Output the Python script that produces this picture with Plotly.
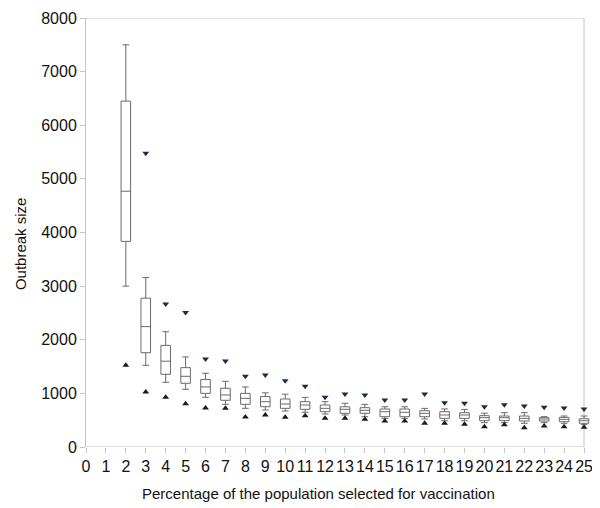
import plotly.graph_objects as go

# Percentage of population vaccinated (x positions of the boxes)
pct = list(range(2, 26))

upper_whisker = [7500, 3160, 2150, 1680, 1375, 1225, 1120, 1010, 985, 925, 845, 815, 795,
                 750, 750, 720, 710, 700, 630, 640, 640, 565, 578, 578]
q3 = [6450, 2775, 1895, 1480, 1260, 1095, 1000, 940, 895, 845, 783, 750, 733,
      708, 708, 677, 658, 640, 584, 578, 578, 547, 553, 528]
median = [4770, 2245, 1600, 1318, 1120, 970, 908, 845, 802, 783, 721, 703, 684,
          658, 647, 628, 597, 597, 547, 547, 534, 522, 516, 491]
q1 = [3835, 1758, 1356, 1188, 1000, 871, 796, 751, 721, 703, 658, 628, 628,
      565, 565, 565, 534, 534, 491, 491, 485, 485, 472, 442]
lower_whisker = [3000, 1523, 1206, 1076, 926, 796, 721, 690, 671, 647, 615, 597, 565,
                 534, 534, 522, 490, 490, 454, 454, 442, 454, 442, 416]

# max / min markers (triangles)
max_x = list(range(3, 26))
max_vals = [5480, 2665, 2510, 1640, 1605, 1318, 1342, 1237, 1132, 927, 988, 970,
            876, 876, 988, 826, 815, 752, 789, 765, 740, 727, 709]
min_x = list(range(2, 26))
min_vals = [1523, 1025, 926, 808, 727, 721, 559, 597, 553, 584, 534, 534, 516,
            485, 485, 442, 442, 423, 379, 416, 360, 392, 379, 366]

x_ticks = list(range(0, 26))

FONT = "Liberation Sans, Arial, sans-serif"
FRAME = "#c4c4c4"
X_MAX, Y_MAX = 25, 8000

fig = go.Figure()

fig.add_trace(go.Box(
    x=pct,
    q1=q1,
    median=median,
    q3=q3,
    lowerfence=lower_whisker,
    upperfence=upper_whisker,
    width=0.48,
    whiskerwidth=0.7,
    fillcolor="white",
    line=dict(color="#6a6a6a", width=1),
    boxpoints=False,
    hoverinfo="skip",
    showlegend=False,
))

fig.add_trace(go.Scatter(
    x=max_x, y=max_vals, mode="markers",
    marker=dict(symbol="triangle-down", size=6, color="#1c2b4a"),
    showlegend=False, cliponaxis=False,
))
fig.add_trace(go.Scatter(
    x=min_x, y=min_vals, mode="markers",
    marker=dict(symbol="triangle-up", size=6, color="#1a1a1a"),
    showlegend=False, cliponaxis=False,
))

tick_font = dict(family=FONT, size=16, color="#111")
title_font = dict(family=FONT, size=15, color="#111")

# x range runs a bit past 25 so the last box is not clipped; frame drawn at 25
fig.update_xaxes(
    range=[0, 25.3], tickvals=x_ticks, ticktext=[str(v) for v in x_ticks],
    showline=False, showgrid=False, zeroline=False, automargin=False,
    ticks="outside", tickcolor=FRAME, ticklen=5, tickfont=tick_font,
    ticklabeloverflow="allow",
)
fig.update_yaxes(
    range=[0, Y_MAX], dtick=1000,
    showline=True, linecolor=FRAME, linewidth=1, mirror=False,
    showgrid=False, zeroline=False, automargin=False,
    ticks="outside", tickcolor=FRAME, ticklen=5, tickfont=tick_font,
)

frame_line = dict(color=FRAME, width=1)
for x0, y0, x1, y1 in [(0, 0, X_MAX, 0), (0, Y_MAX, X_MAX, Y_MAX), (X_MAX, 0, X_MAX, Y_MAX)]:
    fig.add_shape(type="line", xref="x", yref="y", x0=x0, y0=y0, x1=x1, y1=y1,
                  line=frame_line, layer="below")

# axis titles as annotations (the original ones sit off-centre)
fig.add_annotation(text="Percentage of the population selected for vaccination",
                   xref="paper", yref="paper", x=0.4623, y=0, yshift=-46,
                   xanchor="center", yanchor="middle", showarrow=False, font=title_font)
fig.add_annotation(text="Outbreak size", textangle=-90,
                   xref="paper", yref="paper", x=0, y=0.473, xshift=-66,
                   xanchor="center", yanchor="middle", showarrow=False, font=title_font)

# page body has an 8px margin, so the figure is offset to compensate
fig.update_layout(
    width=592, height=500,
    margin=dict(l=78, r=10, t=10, b=61),
    plot_bgcolor="white", paper_bgcolor="white",
)

fig.write_html("out.html")
